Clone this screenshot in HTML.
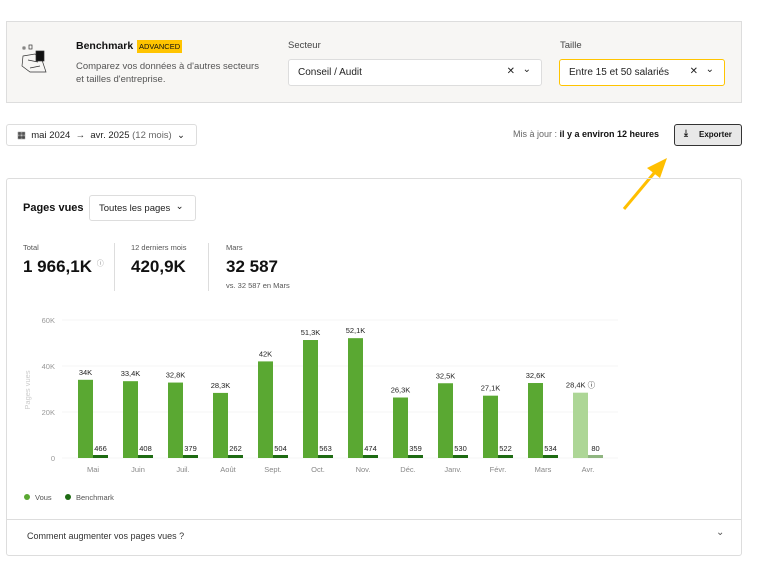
<!DOCTYPE html>
<html><head><meta charset="utf-8"><style>
*{box-sizing:border-box;margin:0;padding:0}
body{width:782px;height:574px;background:#fff;font-family:"Liberation Sans",sans-serif;position:relative;overflow:hidden;color:#111}
.abs{position:absolute;white-space:nowrap}
.sel{position:absolute;white-space:nowrap;background:#fff;border:1px solid #ddd;border-radius:3px;font-size:10px;color:#222}
</style></head><body>
<div class="abs" style="left:6px;top:21px;width:736px;height:82px;background:#f7f6f4;border:1px solid #ddd"></div>
<svg class="abs" style="left:20px;top:42px" width="40" height="40" viewBox="0 0 40 40" fill="none" stroke="#333" stroke-width="0.7"><rect x="3" y="5" width="2" height="2"/><rect x="9" y="3" width="3" height="4"/><path d="M3 14 L15 12 L22 18 L26 30 L10 30 L2 24 Z M8 18 L18 20 M10 26 L20 24"/><rect x="16" y="9" width="8" height="10" fill="#111"/></svg>
<div class="abs" style="left:76px;top:40px;font-size:10.5px;font-weight:bold">Benchmark</div>
<div class="abs" style="left:137px;top:40px;background:#ffc400;font-size:7.5px;padding:1px 2px;line-height:11px">ADVANCED</div>
<div class="abs" style="left:76px;top:60px;font-size:9.5px;color:#555;line-height:13px">Comparez vos données à d'autres secteurs<br>et tailles d'entreprise.</div>
<div class="abs" style="left:288px;top:40px;font-size:9.5px;color:#444">Secteur</div>
<div class="sel" style="left:288px;top:59px;width:254px;height:27px;padding:7px 9px">Conseil / Audit<span class="abs" style="right:26px;top:6px">✕</span><span class="abs" style="right:10px;top:4px">⌄</span></div>
<div class="abs" style="left:560px;top:40px;font-size:9.5px;color:#444">Taille</div>
<div class="sel" style="left:559px;top:59px;width:166px;height:27px;padding:7px 9px;border-color:#ffc400">Entre 15 et 50 salariés<span class="abs" style="right:26px;top:6px">✕</span><span class="abs" style="right:10px;top:4px">⌄</span></div>
<div class="sel" style="left:6px;top:124px;width:191px;height:22px;padding:5px 10px;font-size:9.5px">▦ &nbsp;mai 2024 &nbsp;→ &nbsp;avr. 2025 <span style="color:#666">(12 mois)</span> &nbsp;⌄</div>
<div class="abs" style="left:513px;top:129px;font-size:9px;color:#666">Mis à jour : <b style="color:#111">il y a environ 12 heures</b></div>
<div class="abs" style="left:674px;top:124px;width:68px;height:22px;background:#e8e8e8;border:1px solid #333;border-radius:3px;font-size:8px;font-weight:bold;padding:5px 0 0 24px">Exporter<span class="abs" style="left:9px;top:3px;font-size:9px">⤓</span></div>
<svg class="abs" style="left:615px;top:150px" width="60" height="65"><line x1="9" y1="59" x2="40" y2="22" stroke="#ffbf00" stroke-width="3"/><polygon points="52,8 32,18 45,28" fill="#ffbf00"/></svg>
<div class="abs" style="left:6px;top:178px;width:736px;height:378px;border:1px solid #ddd;border-radius:3px"></div>
<div class="abs" style="left:6px;top:519px;width:736px;height:1px;background:#ddd"></div>
<div class="abs" style="left:23px;top:202px;font-size:11px;font-weight:bold">Pages vues</div>
<div class="sel" style="left:89px;top:195px;width:107px;height:26px;padding:7px 9px;font-size:9.5px">Toutes les pages &nbsp;<span style="position:relative;top:-2px">⌄</span></div>
<div class="abs" style="left:23px;top:243px;font-size:7.5px;color:#555">Total</div>
<div class="abs" style="left:23px;top:257px;font-size:17px;font-weight:bold">1 966,1K <sup style="font-size:7px;color:#888;font-weight:normal">ⓘ</sup></div>
<div class="abs" style="left:114px;top:243px;width:1px;height:48px;background:#ddd"></div>
<div class="abs" style="left:131px;top:243px;font-size:7.5px;color:#555">12 derniers mois</div>
<div class="abs" style="left:131px;top:257px;font-size:17px;font-weight:bold">420,9K</div>
<div class="abs" style="left:208px;top:243px;width:1px;height:48px;background:#ddd"></div>
<div class="abs" style="left:226px;top:243px;font-size:7.5px;color:#555">Mars</div>
<div class="abs" style="left:226px;top:257px;font-size:17px;font-weight:bold">32 587</div>
<div class="abs" style="left:226px;top:281px;font-size:7.5px;color:#555">vs. 32 587 en Mars</div>
<svg class="abs" style="left:0;top:0" width="782" height="574" font-family="Liberation Sans, sans-serif">
<g stroke="#f4f4f4"><line x1="62" y1="320" x2="618" y2="320"/><line x1="62" y1="366" x2="618" y2="366"/><line x1="62" y1="412" x2="618" y2="412"/><line x1="62" y1="458" x2="618" y2="458"/></g>
<g font-size="7.5" fill="#999" text-anchor="end"><text x="55" y="323">60K</text><text x="55" y="369">40K</text><text x="55" y="415">20K</text><text x="55" y="461">0</text></g>
<text transform="translate(30,390) rotate(-90)" font-size="7.5" fill="#ccc" text-anchor="middle">Pages vues</text>
<g id="bars"></g>
<circle cx="27" cy="497" r="3" fill="#5aa832"/><text x="35" y="500" font-size="7.5" fill="#555">Vous</text>
<circle cx="68" cy="497" r="3" fill="#1e6b13"/><text x="76" y="500" font-size="7.5" fill="#555">Benchmark</text>
</svg>
<div class="abs" style="left:27px;top:531px;font-size:9px;color:#333">Comment augmenter vos pages vues ?</div>
<div class="abs" style="left:716px;top:527px;font-size:10px;color:#555">⌄</div>
<script>
var d=[["Mai",34,"34K",466],["Juin",33.4,"33,4K",408],["Juil.",32.8,"32,8K",379],["Août",28.3,"28,3K",262],["Sept.",42,"42K",504],["Oct.",51.3,"51,3K",563],["Nov.",52.1,"52,1K",474],["Déc.",26.3,"26,3K",359],["Janv.",32.5,"32,5K",530],["Févr.",27.1,"27,1K",522],["Mars",32.6,"32,6K",534],["Avr.",28.4,"28,4K ⓘ",80]];
var s="";d.forEach(function(m,i){var c=93+45*i,h=m[1]*2.3,y=458-h,last=i==11;
s+='<rect x="'+(c-15)+'" y="'+y+'" width="15" height="'+h+'" fill="'+(last?'#add696':'#5aa832')+'"/>';
s+='<rect x="'+c+'" y="455" width="15" height="3" fill="'+(last?'#8fb580':'#1e6b13')+'"/>';
s+='<text x="'+(c-7.5)+'" y="'+(y-5)+'" font-size="7.5" fill="#222" text-anchor="middle">'+m[2]+'</text>';
s+='<text x="'+(c+7.5)+'" y="451" font-size="7.5" fill="#222" text-anchor="middle">'+m[3]+'</text>';
s+='<text x="'+c+'" y="472" font-size="7.5" fill="#888" text-anchor="middle">'+m[0]+'</text>';});
document.getElementById("bars").innerHTML=s;
</script>
</body></html>
